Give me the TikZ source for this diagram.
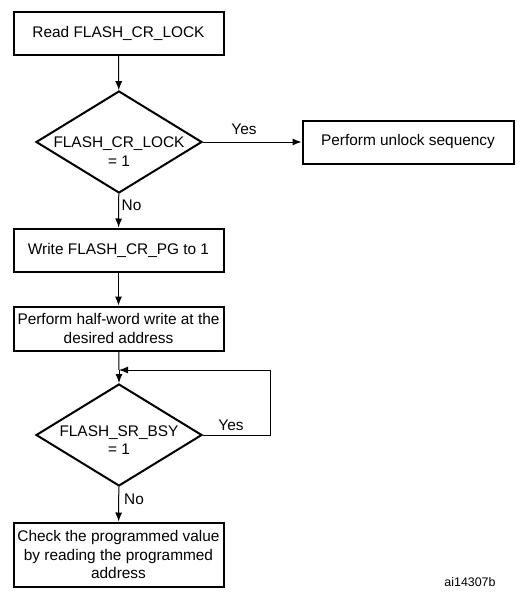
\documentclass[tikz,border=0pt]{standalone}
\usepackage{fontspec}
\setmainfont{Liberation Sans}
\usetikzlibrary{arrows.meta,shapes.geometric,positioning}

\begin{document}
\begin{tikzpicture}[x=1pt,y=-1pt,
    >={Latex[length=9pt,width=7pt]},
    proc/.style={draw,line width=2pt,rectangle,minimum width=210pt,minimum height=43pt,inner sep=1pt,align=center,font=\fontsize{15.4}{18.5}\selectfont},
    decision/.style={draw,line width=2pt,diamond,inner sep=0pt,minimum width=166pt,minimum height=102pt},
    lbl/.style={font=\fontsize{15.4}{18.5}\selectfont,inner sep=0pt,align=center}]
    \useasboundingbox (0,0) rectangle (528,600);

    \node[proc] (R) at (118.5,33) {Read FLASH\_CR\_LOCK};
    \node[decision] (D1) at (119,142) {};
    \node[lbl] (D1t) at (119,151.5) {FLASH\_CR\_LOCK\\= 1};
    \node[proc,minimum width=211pt] (U) at (408,142) {Perform unlock sequency};
    \node[proc] (W) at (118.5,250) {Write FLASH\_CR\_PG to 1};
    \node[proc,minimum height=44pt] (P) at (118.5,328.5) {Perform half-word write at the\\desired address};
    \node[decision] (D2) at (119,435) {};
    \node[lbl] (D2t) at (119,440) {FLASH\_SR\_BSY\\= 1};
    \node[proc,minimum height=64pt] (C) at (118.5,554.5) {Check the programmed value\\by reading the programmed\\address};

    \node[lbl] (Y1) at (244,129) {Yes};
    \node[lbl] (N1) at (131.5,205) {No};
    \node[lbl] (Y2) at (231,425) {Yes};
    \node[lbl] (N2) at (134,499) {No};
    \node[font=\fontsize{12.4}{14}\selectfont,inner sep=0pt] (ID) at (470,582) {ai14307b};

    \coordinate (J) at (119,370);
    \coordinate (L) at (270,370);

    \path[->,line width=1pt] (R) edge (D1)
    (D1) edge (U)
    (D1) edge (W)
    (W) edge (P)
    (D2) edge (C);
    \draw[line width=1pt] (P) -- (J);
    \draw[->,line width=1pt] (J) -- (D2);
    \draw[->,line width=1pt] (D2.east) -| (L) -- (J);
\end{tikzpicture}
\end{document}
